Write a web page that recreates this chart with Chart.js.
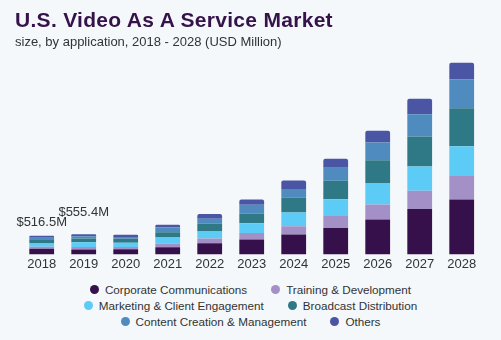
<!DOCTYPE html>
<html>
<head>
<meta charset="utf-8">
<script src="https://cdn.jsdelivr.net/npm/chart.js@4.4.1/dist/chart.umd.min.js"></script>
<style>
  html, body { margin: 0; padding: 0; background: #f4f8fb; }
  #wrap { position: relative; width: 501px; height: 340px; overflow: hidden; font-family: "Liberation Sans", Arial, sans-serif; }
  #title { position: absolute; left: 15px; top: 8px; font-size: 21px; font-weight: 900; color: #35124a; white-space: nowrap; letter-spacing: 0.3px; }
  #subtitle { position: absolute; left: 15px; top: 34px; font-size: 13px; color: #333; white-space: nowrap; }
  #chartBox { position: absolute; left: 0; top: 0; width: 501px; height: 280px; }
  #legend { position: absolute; left: 0; top: 281px; width: 501px; font-size: 11.7px; color: #333; }
  .lg-row { display: flex; justify-content: center; gap: 24px; height: 16px; align-items: center; }
  .lg-item { display: flex; align-items: center; gap: 6px; white-space: nowrap; }
  .lg-dot { width: 9px; height: 9px; border-radius: 50%; }
</style>
</head>
<body>
<div id="wrap">
  <div id="chartBox"><canvas id="vaas"></canvas></div>
  <div id="title">U.S. Video As A Service Market</div>
  <div id="subtitle">size, by application, 2018 - 2028 (USD Million)</div>
  <div id="legend"></div>
</div>
<script>
// years on the x axis
const years = ['2018', '2019', '2020', '2021', '2022', '2023', '2024', '2025', '2026', '2027', '2028'];

// USD million per application
const corporate = [155.5, 132.3, 142, 195, 306, 409, 548, 731, 965, 1259, 1521];
const training  = [58.7, 71.4, 62, 103, 131, 186, 231, 334, 417, 500, 648];
const marketing = [88.0, 132.2, 116, 167, 195, 270, 381, 464, 592, 676, 826];
const broadcast = [96.9, 105.8, 116, 147, 214, 270, 409, 509, 631, 826, 1048];
const content   = [58.7, 60.8, 46, 131, 139, 242, 242, 361, 492, 620, 806];
const others    = [58.7, 52.9, 62, 75, 131, 139, 231, 250, 325, 425, 453];

// totals printed above the first two bars
const callouts = ['$516.5M', '$555.4M'];

const series = [
  { label: 'Corporate Communications', data: corporate, color: '#36104a' },
  { label: 'Training & Development', data: training, color: '#a390c7' },
  { label: 'Marketing & Client Engagement', data: marketing, color: '#5ccbf6' },
  { label: 'Broadcast Distribution', data: broadcast, color: '#2f7986' },
  { label: 'Content Creation & Management', data: content, color: '#4f8bbf' },
  { label: 'Others', data: others, color: '#4a55a4' }
];

const calloutPlugin = {
  id: 'callouts',
  afterDatasetsDraw(chart) {
    const { ctx, scales } = chart;
    const lift = [13, 22];
    ctx.save();
    ctx.font = '13px "Liberation Sans", Arial, sans-serif';
    ctx.fillStyle = '#333';
    ctx.textAlign = 'center';
    ctx.textBaseline = 'middle';
    callouts.forEach((txt, i) => {
      const total = series.reduce((s, d) => s + d.data[i], 0);
      const x = scales.x.getPixelForValue(i);
      const y = scales.y.getPixelForValue(total) - lift[i];
      ctx.fillText(txt, x, y);
    });
    ctx.restore();
  }
};

new Chart(document.getElementById('vaas'), {
  type: 'bar',
  data: {
    labels: years,
    datasets: series.map((s, i) => ({
      label: s.label,
      data: s.data,
      backgroundColor: s.color,
      borderWidth: 0,
      borderSkipped: false,
      borderRadius: i === series.length - 1 ? { topLeft: 2, topRight: 2 } : 0,
      barPercentage: 0.59,
      categoryPercentage: 1
    }))
  },
  options: {
    responsive: true, maintainAspectRatio: false, animation: false,
    layout: { padding: { left: 20.7, right: 18.3, top: 52, bottom: 6 } },
    plugins: { legend: { display: false }, tooltip: { enabled: false } },
    scales: {
      x: {
        stacked: true,
        grid: { display: false, drawTicks: false, tickLength: 0 }, border: { display: false },
        ticks: { color: '#333', padding: 2, font: { size: 13, family: '"Liberation Sans", Arial, sans-serif' } }
      },
      y: { stacked: true, display: false, min: 0, max: 5600 }
    }
  },
  plugins: [calloutPlugin]
});

// legend: two entries per row
const legend = document.getElementById('legend');
for (let r = 0; r < series.length; r += 2) {
  const row = document.createElement('div');
  row.className = 'lg-row';
  series.slice(r, r + 2).forEach(s => {
    row.innerHTML += `<div class="lg-item"><div class="lg-dot" style="background:${s.color}"></div><span>${s.label}</span></div>`;
  });
  legend.appendChild(row);
}
</script>
</body>
</html>
